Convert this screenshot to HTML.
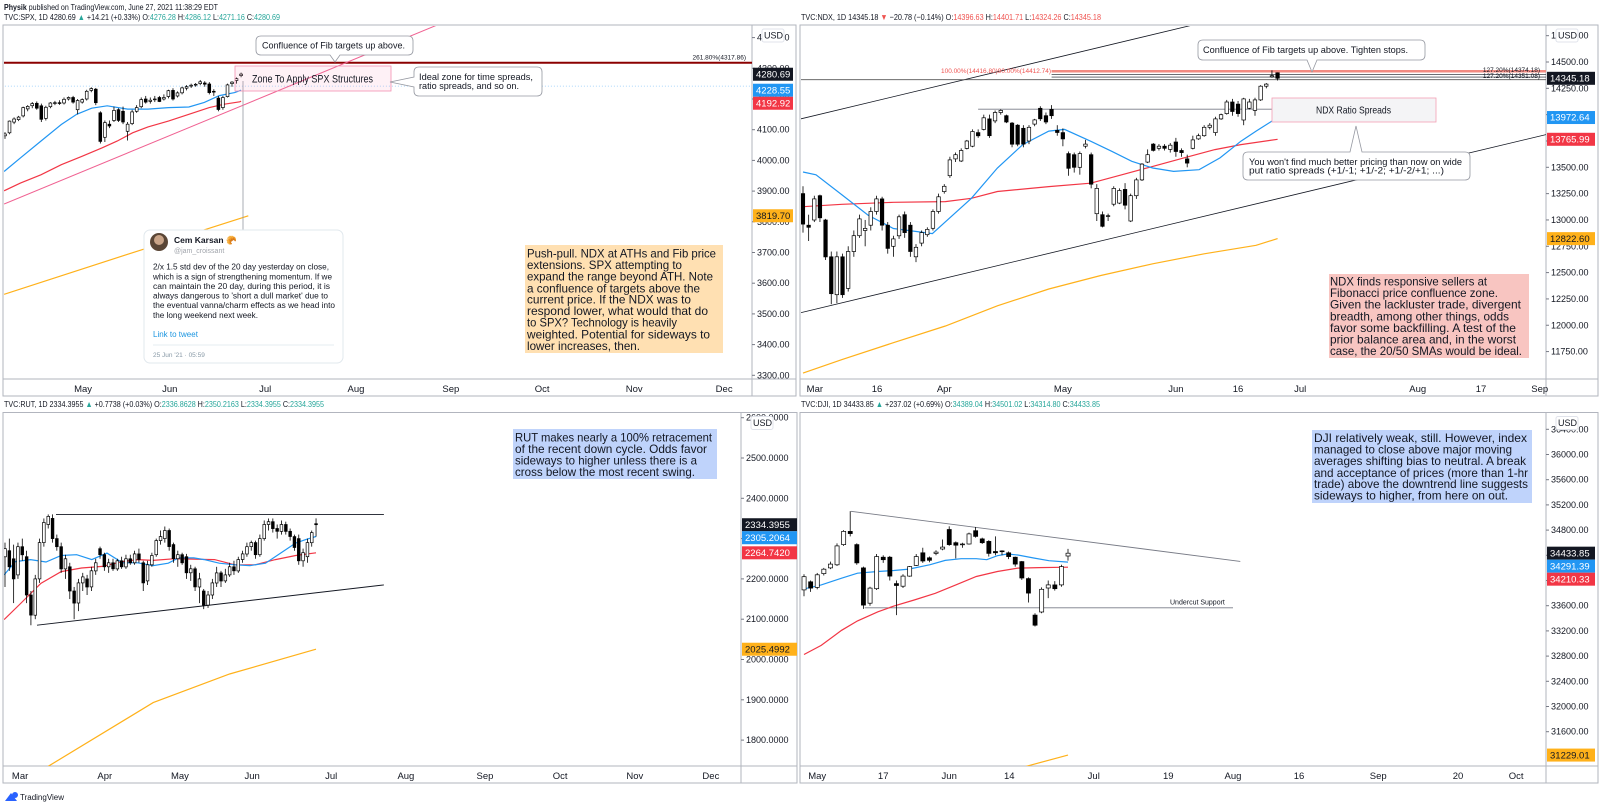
<!DOCTYPE html>
<html><head><meta charset="utf-8"><title>TradingView multi-chart</title>
<style>
html,body{margin:0;padding:0;background:#fff;}
svg{display:block;font-family:"Liberation Sans",sans-serif;}
.ax{font-size:9px;fill:#131722;}
.dt{font-size:9.5px;fill:#131722;text-anchor:middle;}
.note{font-size:12px;fill:#131722;}
.cl{font-size:9.5px;fill:#131722;}
</style></head>
<body>
<svg id="chart" width="1600" height="805" viewBox="0 0 1600 805" xmlns="http://www.w3.org/2000/svg">
<rect x="0" y="0" width="1600" height="805" fill="#fff"/>
<text x="4" y="10" font-size="8px" fill="#131722" textLength="214" lengthAdjust="spacingAndGlyphs"><tspan font-weight="bold">Physik</tspan> published on TradingView.com, June 27, 2021 11:38:29 EDT</text>

<!-- legends -->
<text x="4" y="20" font-size="8.5px" fill="#131722" textLength="276" lengthAdjust="spacingAndGlyphs">TVC:SPX, 1D 4280.69 <tspan fill="#26a69a">▲</tspan> +14.21 (+0.33%) O:<tspan fill="#26a69a">4276.28</tspan> H:<tspan fill="#26a69a">4286.12</tspan> L:<tspan fill="#26a69a">4271.16</tspan> C:<tspan fill="#26a69a">4280.69</tspan></text>
<text x="801" y="20" font-size="8.5px" fill="#131722" textLength="300" lengthAdjust="spacingAndGlyphs">TVC:NDX, 1D 14345.18 <tspan fill="#ef5350">▼</tspan> −20.78 (−0.14%) O:<tspan fill="#ef5350">14396.63</tspan> H:<tspan fill="#ef5350">14401.71</tspan> L:<tspan fill="#ef5350">14324.26</tspan> C:<tspan fill="#ef5350">14345.18</tspan></text>
<text x="4" y="407" font-size="8.5px" fill="#131722" textLength="320" lengthAdjust="spacingAndGlyphs">TVC:RUT, 1D 2334.3955 <tspan fill="#26a69a">▲</tspan> +0.7738 (+0.03%) O:<tspan fill="#26a69a">2336.8628</tspan> H:<tspan fill="#26a69a">2350.2163</tspan> L:<tspan fill="#26a69a">2334.3955</tspan> C:<tspan fill="#26a69a">2334.3955</tspan></text>
<text x="801" y="407" font-size="8.5px" fill="#131722" textLength="299" lengthAdjust="spacingAndGlyphs">TVC:DJI, 1D 34433.85 <tspan fill="#26a69a">▲</tspan> +237.02 (+0.69%) O:<tspan fill="#26a69a">34389.04</tspan> H:<tspan fill="#26a69a">34501.02</tspan> L:<tspan fill="#26a69a">34314.80</tspan> C:<tspan fill="#26a69a">34433.85</tspan></text>

<g id="panels"></g>

<!-- SPX annotations -->
<g>
<path d="M261,36 H408 Q413,36 413,41 V50 Q413,55 408,55 H340 L335,62 L330,55 H261 Q256,55 256,50 V41 Q256,36 261,36 Z" fill="#fff" stroke="#9598a1" stroke-width="0.8"/>
<text class="cl" x="262" y="48.5" textLength="143" lengthAdjust="spacingAndGlyphs">Confluence of Fib targets up above.</text>
<rect x="235" y="66" width="156" height="25" fill="rgba(244,143,177,0.12)" stroke="#f48fb1" stroke-width="0.8"/>
<text x="252" y="82.5" font-size="11px" fill="#131722" textLength="121" lengthAdjust="spacingAndGlyphs">Zone To Apply SPX Structures</text>
<path d="M419,67 H537 Q542,67 542,72 V91 Q542,96 537,96 H419 Q414,96 414,91 V87 L390,82 L414,77 V72 Q414,67 419,67 Z" fill="#fff" stroke="#9598a1" stroke-width="0.8"/>
<text class="cl" x="419" y="80" textLength="114" lengthAdjust="spacingAndGlyphs">Ideal zone for time spreads,</text>
<text class="cl" x="419" y="89" textLength="100" lengthAdjust="spacingAndGlyphs">ratio spreads, and so on.</text>
<!-- tweet card -->
<g>
<rect x="144" y="230" width="199" height="133" rx="6" fill="#fff" stroke="#e1e8ed" stroke-width="1"/>
<circle cx="159" cy="242" r="9" fill="#5a4636"/>
<circle cx="159" cy="240" r="5" fill="#c9a488"/>
<text x="174" y="243" font-size="8.5px" font-weight="bold" fill="#131722">Cem Karsan <tspan fill="#f0a030">🥐</tspan></text>
<text x="174" y="253" font-size="7px" fill="#a0a4ab">@jam_croissant</text>
<g font-size="8px" fill="#131722">
<text x="153" y="269.5" textLength="176" lengthAdjust="spacingAndGlyphs">2/x 1.5 std dev of the 20 day yesterday on close,</text>
<text x="153" y="279.3" textLength="179" lengthAdjust="spacingAndGlyphs">which is a sign of strengthening momentum. If we</text>
<text x="153" y="289" textLength="177" lengthAdjust="spacingAndGlyphs">can maintain the 20 day, during this period,  it is</text>
<text x="153" y="298.5" textLength="175" lengthAdjust="spacingAndGlyphs">always dangerous to 'short a dull market' due to</text>
<text x="153" y="308" textLength="182" lengthAdjust="spacingAndGlyphs">the eventual vanna/charm effects as we head into</text>
<text x="153" y="318" textLength="105" lengthAdjust="spacingAndGlyphs">the long weekend next week.</text>
</g>
<text x="153" y="337" font-size="8px" fill="#1b95e0">Link to tweet</text>
<line x1="153" y1="345" x2="334" y2="345" stroke="#e6ecf0"/>
<text x="153" y="357" font-size="6.5px" fill="#8899a6">25 Jun '21 · 05:59</text>
</g>
<!-- orange note -->
<rect x="525" y="245" width="198" height="108" fill="#ffe0b2"/>
<g class="note">
<text x="527" y="257.5" textLength="189" lengthAdjust="spacingAndGlyphs">Push-pull. NDX at ATHs and Fib price</text>
<text x="527" y="269" textLength="155" lengthAdjust="spacingAndGlyphs">extensions. SPX attempting to</text>
<text x="527" y="280.5" textLength="186" lengthAdjust="spacingAndGlyphs">expand the range beyond ATH. Note</text>
<text x="527" y="292.5" textLength="173" lengthAdjust="spacingAndGlyphs">a confluence of targets above the</text>
<text x="527" y="303.5" textLength="164" lengthAdjust="spacingAndGlyphs">current price. If the NDX was to</text>
<text x="527" y="315" textLength="181" lengthAdjust="spacingAndGlyphs">respond lower, what would that do</text>
<text x="527" y="326.5" textLength="150" lengthAdjust="spacingAndGlyphs">to SPX? Technology is heavily</text>
<text x="527" y="338.5" textLength="183" lengthAdjust="spacingAndGlyphs">weighted. Potential for sideways to</text>
<text x="527" y="350" textLength="113" lengthAdjust="spacingAndGlyphs">lower increases, then.</text>
</g>
<text x="746" y="59.5" font-size="6.5px" fill="#131722" text-anchor="end">261.80%(4317.86)</text>
</g>

<!-- NDX annotations -->
<g>
<path d="M1203,40 H1420 Q1425,40 1425,45 V55 Q1425,60 1420,60 H1317 L1312,72 L1307,60 H1203 Q1198,60 1198,55 V45 Q1198,40 1203,40 Z" fill="#fff" stroke="#9598a1" stroke-width="0.8"/>
<text class="cl" x="1203" y="53" textLength="205" lengthAdjust="spacingAndGlyphs">Confluence of Fib targets up above. Tighten stops.</text>
<rect x="1272" y="98" width="164" height="24" fill="#f4f4f6" stroke="#f4a0b5" stroke-width="0.8"/>
<text x="1316" y="113.5" font-size="10.5px" fill="#131722" textLength="75" lengthAdjust="spacingAndGlyphs">NDX Ratio Spreads</text>
<path d="M1248,152 H1350 L1356,126 L1362,152 H1465 Q1470,152 1470,157 V175 Q1470,180 1465,180 H1248 Q1243,180 1243,175 V157 Q1243,152 1248,152 Z" fill="#fff" stroke="#9598a1" stroke-width="0.8"/>
<text class="cl" x="1249" y="165" textLength="213" lengthAdjust="spacingAndGlyphs">You won't find much better pricing than now on wide</text>
<text class="cl" x="1249" y="173.5" textLength="195" lengthAdjust="spacingAndGlyphs">put ratio spreads (+1/-1; +1/-2; +1/-2/+1; ...)</text>
<rect x="1329" y="274" width="200" height="84" fill="#f8c5c1"/>
<g class="note">
<text x="1330" y="285.5" textLength="157" lengthAdjust="spacingAndGlyphs">NDX finds responsive sellers at</text>
<text x="1330" y="297" textLength="168" lengthAdjust="spacingAndGlyphs">Fibonacci price confluence zone.</text>
<text x="1330" y="308.5" textLength="191" lengthAdjust="spacingAndGlyphs">Given the lackluster trade, divergent</text>
<text x="1330" y="320.5" textLength="179" lengthAdjust="spacingAndGlyphs">breadth, among other things, odds</text>
<text x="1330" y="332" textLength="186" lengthAdjust="spacingAndGlyphs">favor some backfilling. A test of the</text>
<text x="1330" y="343.5" textLength="186" lengthAdjust="spacingAndGlyphs">prior balance area and, in the worst</text>
<text x="1330" y="355" textLength="192" lengthAdjust="spacingAndGlyphs">case, the 20/50 SMAs would be ideal.</text>
</g>
<text x="941" y="73" font-size="6.5px" fill="#ef5350" textLength="110" lengthAdjust="spacingAndGlyphs">100.00%(14416.80)90.00%(14412.74)</text>
<text x="1540" y="72" font-size="6.5px" fill="#131722" text-anchor="end">127.20%(14374.18)</text>
<text x="1540" y="78" font-size="6.5px" fill="#131722" text-anchor="end">127.20%(14351.08)</text>
</g>

<!-- RUT note -->
<g>
<rect x="513" y="429" width="204" height="50" fill="#bfd3fb"/>
<g class="note">
<text x="515" y="441.5" textLength="197" lengthAdjust="spacingAndGlyphs">RUT makes nearly a 100% retracement</text>
<text x="515" y="452.9" textLength="192" lengthAdjust="spacingAndGlyphs">of the recent down cycle. Odds favor</text>
<text x="515" y="464.5" textLength="182" lengthAdjust="spacingAndGlyphs">sideways to higher unless there is a</text>
<text x="515" y="476" textLength="180" lengthAdjust="spacingAndGlyphs">cross below the most recent swing.</text>
</g>
</g>

<!-- DJI note -->
<g>
<rect x="1312" y="430" width="220" height="73" fill="#bfd3fb"/>
<g class="note">
<text x="1314" y="441.9" textLength="213" lengthAdjust="spacingAndGlyphs">DJI relatively weak, still. However, index</text>
<text x="1314" y="453.6" textLength="198" lengthAdjust="spacingAndGlyphs">managed to close above major moving</text>
<text x="1314" y="465" textLength="212" lengthAdjust="spacingAndGlyphs">averages shifting bias to neutral. A break</text>
<text x="1314" y="476.8" textLength="214" lengthAdjust="spacingAndGlyphs">and acceptance of prices (more than 1-hr</text>
<text x="1314" y="488.2" textLength="214" lengthAdjust="spacingAndGlyphs">trade) above the downtrend line suggests</text>
<text x="1314" y="499.7" textLength="194" lengthAdjust="spacingAndGlyphs">sideways to higher, from here on out.</text>
</g>
<text x="1170" y="604.5" font-size="7px" fill="#131722">Undercut Support</text>
</g>

<g>
<path d="M5,801 L11,793 L17,801 Z" fill="#2962ff"/>
<circle cx="15" cy="795" r="3" fill="#2962ff"/>
<text x="20" y="800" font-size="8px" fill="#131722">TradingView</text>
</g>
</svg>

<script>
// ---------- SPX data ----------
const spxCandles = [[4080,4092,4070,4086],[4090,4130,4085,4128],[4125,4140,4118,4135],[4133,4145,4128,4141],[4145,4175,4140,4172],[4168,4180,4160,4176],[4178,4190,4170,4185],[4186,4192,4165,4170],[4178,4185,4125,4134],[4137,4178,4130,4173],[4175,4190,4170,4187],[4186,4194,4180,4188],[4188,4196,4181,4187],[4187,4205,4182,4199],[4200,4208,4195,4205],[4205,4210,4185,4190],[4165,4200,4150,4195],[4190,4202,4185,4198],[4200,4230,4195,4225],[4228,4238,4222,4234],[4232,4236,4180,4188],[4155,4160,4055,4062],[4075,4130,4060,4123],[4118,4130,4105,4112],[4130,4175,4125,4163],[4165,4170,4125,4130],[4160,4175,4118,4125],[4095,4125,4065,4118],[4120,4165,4115,4158],[4160,4180,4155,4172],[4175,4205,4170,4198],[4200,4210,4185,4190],[4192,4205,4185,4196],[4198,4210,4190,4200],[4205,4210,4190,4192],[4200,4215,4195,4205],[4208,4230,4202,4227],[4228,4235,4195,4200],[4210,4225,4205,4220],[4220,4240,4215,4236],[4235,4245,4228,4240],[4242,4250,4236,4245],[4246,4252,4240,4248],[4250,4262,4245,4256],[4252,4258,4240,4248],[4249,4255,4215,4221],[4225,4232,4210,4224],[4203,4210,4160,4166],[4172,4210,4165,4205],[4208,4250,4205,4246],[4250,4258,4240,4255],[4260,4270,4250,4266],[4276,4286,4271,4281]];
const spxSma20 = [[-0.2,3964],[3.4,4008],[7.9,4063],[12.4,4117],[15.8,4150],[19.1,4170],[22.5,4178],[27,4167],[31.5,4167],[36,4172],[40.5,4174],[43.9,4189],[47.2,4211],[50.6,4221],[52,4228.55]];
const spxSma50 = [[-0.2,3901],[3.4,3926],[7.9,3953],[12.4,3986],[16.9,4013],[21.4,4041],[24.7,4063],[28.1,4090],[31.5,4109],[36,4128],[40.5,4150],[45,4172],[48.3,4183],[51.7,4191],[52,4192.92]];
const spxSma200 = [[-0.2,3564],[27,3694],[53.6,3819.7]];
const spxTicks = [4400,4300,4200,4100,4000,3900,3800,3700,3600,3500,3400,3300];
const spxDateLabels = ["May","Jun","Jul","Aug","Sep","Oct","Nov","Dec"];
const spxDateIdx = [17.2,36.3,57.3,77.3,98.2,118.3,138.6,158.4];
const spxPriceTags = [4280.69,4228.55,4192.92,3819.70];
const spxTrend = [[-0.2,3858],[95.2,4441]];

// ---------- NDX data ----------
const ndxCandles = [[13250,13320,12880,12960],[12950,13050,12800,12930],[13000,13230,12980,13200],[13230,13240,12980,13020],[13000,13010,12620,12650],[12650,12700,12200,12300],[12290,12700,12210,12650],[12650,12680,12260,12290],[12350,12750,12320,12700],[12700,12900,12650,12850],[12850,13050,12830,13010],[12900,13000,12750,12920],[12950,13120,12900,13080],[13080,13230,13050,13200],[13200,13220,12900,12950],[12950,12980,12680,12730],[12750,12850,12650,12820],[12850,13050,12820,13030],[13050,13080,12830,12880],[12950,12980,12650,12700],[12650,12770,12600,12740],[12780,12900,12750,12880],[12860,12930,12840,12910],[12920,13100,12900,13080],[13080,13250,13060,13220],[13270,13340,13250,13320],[13420,13600,13400,13570],[13580,13640,13550,13620],[13560,13680,13550,13660],[13680,13760,13670,13750],[13700,13860,13690,13840],[13830,13860,13780,13800],[13860,14000,13850,13970],[13960,14000,13780,13800],[13940,14040,13920,14020],[14020,14050,14000,14040],[13990,14000,13920,13930],[13920,13930,13690,13720],[13900,13910,13700,13720],[13870,13900,13690,13720],[13750,13900,13720,13880],[13910,13960,13890,13950],[14060,14080,13940,13960],[13990,14020,13910,13930],[14050,14090,13960,13990],[13850,13900,13800,13830],[13830,13870,13700,13770],[13630,13650,13420,13490],[13620,13640,13450,13500],[13500,13650,13430,13630],[13700,13760,13680,13720],[13620,13640,13300,13340],[13060,13340,12990,13300],[13050,13080,12930,12940],[13040,13060,12990,13040],[13150,13320,13130,13300],[13160,13300,13150,13280],[13290,13350,13100,13140],[12990,13250,12980,13230],[13230,13400,13200,13380],[13380,13540,13370,13530],[13550,13670,13540,13620],[13720,13730,13650,13660],[13680,13720,13660,13700],[13700,13720,13660,13680],[13670,13730,13640,13710],[13740,13780,13600,13650],[13660,13680,13600,13640],[13580,13620,13500,13540],[13680,13800,13670,13760],[13770,13820,13760,13800],[13800,13900,13790,13880],[13880,13920,13860,13900],[13830,13980,13800,13960],[13960,14010,13950,14000],[14010,14140,14000,14120],[14120,14150,13990,14030],[14100,14130,13980,14010],[13950,14160,13900,14150],[14060,14150,14050,14120],[14040,14160,13990,14140],[14140,14280,14130,14270],[14270,14300,14250,14290],[14360,14420,14350,14370],[14397,14402,14324,14345]];
const ndxSma20 = [[0,13455],[2.3,13429],[6.9,13238],[11.5,13046],[16,12919],[22.9,12870],[25.2,12982],[29.8,13206],[34.4,13493],[38.9,13716],[43.5,13844],[46.3,13860],[50.9,13748],[54.6,13653],[58.2,13557],[61.9,13493],[65.6,13461],[70.1,13477],[73.8,13589],[77.5,13748],[80.2,13844],[84,13972.64]];
const ndxSma50 = [[0,13126],[6.9,13149],[16,13168],[25.2,13174],[29.8,13206],[34.4,13270],[43.5,13317],[50.9,13349],[56.4,13429],[61.9,13509],[67.4,13589],[72.9,13668],[77.5,13716],[84,13765.99]];
const ndxSma200 = [[0,11546],[6.9,11674],[16,11834],[25.2,11993],[34.4,12185],[43.5,12344],[52.7,12472],[61.9,12584],[71,12679],[80.2,12759],[84,12822.6]];
const ndxTicks = [14750,14500,14250,14000,13750,13500,13250,13000,12750,12500,12250,12000,11750];
const ndxDateLabels = ["Mar","16","Apr","May","Jun","16","Jul","Aug","17","Sep"];
const ndxDateIdx = [2.1,13.1,25,46,66,77,88,108.8,120,130.4];
const ndxPriceTags = [14345.18,13972.64,13765.99,12822.60];
const ndxUpperChannel = [[-0.35,13961],[69,14851]];
const ndxLowerChannel = [[-0.35,12120],[131.5,13811]];

// ---------- RUT data ----------
const rutCandles = [[2255,2290,2180,2275],[2270,2300,2220,2230],[2250,2285,2140,2200],[2210,2290,2200,2280],[2280,2300,2245,2260],[2255,2270,2140,2160],[2160,2170,2085,2110],[2110,2210,2100,2200],[2200,2300,2190,2290],[2290,2350,2280,2340],[2335,2360,2325,2355],[2350,2360,2290,2300],[2300,2310,2270,2280],[2280,2290,2215,2225],[2225,2260,2200,2250],[2230,2240,2150,2170],[2170,2180,2100,2140],[2140,2200,2120,2190],[2190,2215,2170,2205],[2200,2210,2160,2180],[2180,2230,2170,2220],[2220,2250,2210,2240],[2275,2280,2250,2260],[2260,2265,2220,2230],[2230,2250,2215,2240],[2240,2250,2220,2225],[2225,2250,2220,2245],[2245,2255,2225,2230],[2230,2260,2225,2250],[2250,2260,2235,2240],[2240,2270,2235,2262],[2262,2275,2240,2248],[2240,2245,2170,2190],[2195,2245,2185,2235],[2235,2265,2230,2258],[2260,2300,2255,2295],[2295,2320,2285,2305],[2300,2330,2290,2320],[2320,2325,2270,2280],[2285,2290,2240,2250],[2250,2270,2230,2260],[2260,2265,2235,2240],[2255,2262,2200,2215],[2215,2235,2195,2225],[2225,2230,2170,2180],[2180,2215,2140,2200],[2170,2175,2125,2135],[2135,2170,2128,2160],[2160,2200,2150,2190],[2190,2230,2180,2215],[2215,2220,2180,2195],[2195,2225,2190,2210],[2210,2240,2205,2230],[2230,2245,2210,2220],[2220,2255,2215,2248],[2248,2270,2240,2262],[2262,2290,2255,2280],[2280,2295,2270,2290],[2290,2295,2250,2260],[2260,2310,2255,2300],[2300,2345,2295,2335],[2335,2350,2320,2342],[2342,2350,2315,2325],[2325,2335,2300,2318],[2318,2345,2310,2335],[2335,2342,2310,2318],[2318,2325,2295,2305],[2305,2310,2270,2278],[2300,2310,2235,2245],[2245,2275,2230,2265],[2255,2300,2240,2290],[2290,2320,2280,2315],[2336.86,2350.22,2305,2334.40]];
const rutSma20 = [[-0.2,2210],[2.4,2243],[5.9,2248],[9.5,2242],[13,2258],[16.6,2260],[20.1,2248],[23.6,2264],[27.2,2240],[30.7,2240],[34.3,2233],[37.8,2239],[40.2,2252],[43.7,2252],[46.1,2248],[49.6,2239],[53.2,2235],[56.7,2233],[60.3,2239],[63.8,2264],[67.3,2289],[69.7,2298],[72,2305.21]];
const rutSma50 = [[-0.2,2099],[3.6,2139],[8.3,2189],[13,2218],[17.7,2227],[22.5,2231],[27.2,2243],[30.7,2248],[34.3,2246],[39,2250],[43.7,2249],[48.5,2248],[53.2,2235],[57.9,2235],[62.6,2248],[67.3,2258],[72,2264.74]];
const rutSma200 = [[10,1735],[34.3,1893],[52,1964],[72,2025.5]];
const rutTicks = [2600,2500,2400,2300,2200,2100,2000,1900,1800];
const rutDateLabels = ["Mar","Apr","May","Jun","Jul","Aug","Sep","Oct","Nov","Dec"];
const rutDateIdx = [3.5,23.1,40.5,57.2,75.5,92.8,111.1,128.5,145.8,163.4];
const rutPriceTags = [2334.3955,2305.2064,2264.7420,2025.4992];
const rutResistance = [[11.8,2360],[87.7,2360]];
const rutSupport = [[7.4,2085],[87.7,2185]];

// ---------- DJI data ----------
const djiCandles = [[33850,34100,33750,34060],[33980,34000,33820,33880],[33890,34120,33860,34090],[34110,34200,34080,34180],[34200,34300,34180,34260],[34250,34590,34230,34550],[34570,34800,34550,34780],[34780,35100,34700,34745],[34570,34590,34250,34280],[34200,34220,33550,33610],[33640,33900,33600,33880],[33870,34420,33850,34380],[34370,34400,34280,34330],[34370,34390,34000,34070],[33950,34000,33450,33920],[33910,34100,33880,34070],[34070,34230,34060,34220],[34240,34420,34230,34380],[34440,34520,34280,34310],[34360,34380,34290,34320],[34430,34480,34400,34450],[34500,34650,34480,34530],[34810,34860,34550,34570],[34600,34620,34350,34560],[34570,34600,34520,34580],[34580,34760,34570,34740],[34790,34850,34680,34700],[34660,34680,34580,34600],[34620,34640,34380,34430],[34460,34700,34400,34440],[34470,34480,34400,34460],[34440,34460,34340,34380],[34370,34380,34220,34260],[34300,34310,34010,34040],[34030,34050,33650,33800],[33450,33480,33270,33290],[33500,33890,33480,33860],[33880,34000,33720,33930],[33930,33990,33840,33870],[33930,34250,33900,34220],[34389,34501,34315,34434]];
const djiSma20 = [[0,33867],[2.6,33930],[5.7,34036],[8.1,34116],[11.2,34143],[13.6,34159],[15.9,34181],[19.1,34251],[21.4,34319],[23.8,34346],[26.1,34346],[27.7,34330],[29.3,34394],[30.8,34421],[32.4,34405],[34.8,34357],[37.1,34314],[40,34291.39]];
const djiSma50 = [[0,32825],[2.6,32970],[5.7,33210],[8.1,33359],[11.2,33503],[13.6,33594],[16.7,33690],[19.9,33797],[23,33930],[26.1,34063],[29.3,34143],[32.4,34197],[35.6,34205],[40,34210.33]];
const djiSma200 = [[33.6,31049],[40,31229.01]];
const djiTicks = [36400,36000,35600,35200,34800,34400,34000,33600,33200,32800,32400,32000,31600];
const djiDateLabels = ["May","17","Jun","14","Jul","19","Aug","16","Sep","20","Oct"];
const djiDateIdx = [2,12,22,31.1,43.9,55.2,65,75,87,99.1,107.9];
const djiPriceTags = [34433.85,34291.39,34210.33,31229.01];
const djiDowntrend = [[7.1,35098],[66.1,34303]];
const djiUndercut = [[9.2,33567],[65,33567]];

const NS = "http://www.w3.org/2000/svg";
const root = document.getElementById('panels');
const tagColors = ["#131722","#2196f3","#f23645","#ffb11a"];

function mk(tag, parent){ const e=document.createElementNS(NS,tag); parent.appendChild(e); return e; }

function drawPanel(id, P, candles, s20, s50, s200, ticks, dec, dLabels, dIdx, tags, extras){
  const g = mk('g', root);
  
  
  const X = i => P.x0 + i*P.step;
  const Y = v => P.yRef + (P.vRef - v)*P.k;
  // frame
  const fr = mk('rect', g);
  
  
  fr.setAttribute('x',P.L-1); fr.setAttribute('y',P.T); fr.setAttribute('width',P.AR-P.L+1); fr.setAttribute('height',P.B+17-P.T);
  fr.setAttribute('fill','none'); fr.setAttribute('stroke','#b2b5be'); fr.setAttribute('stroke-width','1');
  const ax = mk('line', g);
  
  
  ax.setAttribute('x1',P.R); ax.setAttribute('x2',P.R); ax.setAttribute('y1',P.T); ax.setAttribute('y2',P.B+17); ax.setAttribute('stroke','#b2b5be');
  const tx = mk('line', g);
  
  
  tx.setAttribute('x1',P.L-1); tx.setAttribute('x2',P.AR); tx.setAttribute('y1',P.B); tx.setAttribute('y2',P.B); tx.setAttribute('stroke','#b2b5be');
  // clip
  const cp = mk('clipPath', g); cp.setAttribute('id','clip-'+id);
  const cr = mk('rect', cp); cr.setAttribute('x',P.L); cr.setAttribute('y',P.T+1); cr.setAttribute('width',P.R-P.L); cr.setAttribute('height',P.B-P.T-1);
  const plot = mk('g', g);
  
  
  plot.setAttribute('clip-path','url(#clip-'+id+')');
  // extras below candles
  extras.forEach(ex => {
    const l = mk('polyline', plot);
    
    
    l.setAttribute('points', ex.pts.map(p=>X(p[0]).toFixed(1)+','+Y(p[1]).toFixed(1)).join(' '));
    l.setAttribute('fill','none'); l.setAttribute('stroke',ex.color); l.setAttribute('stroke-width',ex.w||1);
    if(ex.dash) l.setAttribute('stroke-dasharray',ex.dash);
  });
  // SMAs
  [[s200,'#ffb11a','sma-200'],[s50,'#f23645','sma-50'],[s20,'#2196f3','sma-20']].forEach(s=>{
    const l = mk('polyline', plot);
    
    
    l.setAttribute('points', s[0].map(p=>X(p[0]).toFixed(1)+','+Y(p[1]).toFixed(1)).join(' '));
    l.setAttribute('fill','none'); l.setAttribute('stroke',s[1]); l.setAttribute('stroke-width','1.2');
  });
  // candles
  const bw = Math.max(2, P.step*0.62);
  candles.forEach((c,i)=>{
    const [o,h,lo,cl] = c; const x = X(i); const up = cl>=o;
    const cg = mk('g', plot);
    
    
    const w = mk('line', cg);
    w.setAttribute('x1',x); w.setAttribute('x2',x); w.setAttribute('y1',Y(h)); w.setAttribute('y2',Y(lo)); w.setAttribute('stroke','#000'); w.setAttribute('stroke-width','0.8');
    const b = mk('rect', cg);
    const yt = Y(Math.max(o,cl)), yb = Y(Math.min(o,cl));
    b.setAttribute('x',(x-bw/2).toFixed(1)); b.setAttribute('y',yt.toFixed(1)); b.setAttribute('width',bw.toFixed(1)); b.setAttribute('height',Math.max(0.8,yb-yt).toFixed(1));
    b.setAttribute('fill', up?'#fff':'#000'); b.setAttribute('stroke','#000'); b.setAttribute('stroke-width','0.7');
  });
  // ticks
  ticks.forEach(t=>{
    const y = Y(t); if(y<P.T+3||y>P.B-2) return;
    const tm = mk('line', g);
    
    
    tm.setAttribute('x1',P.R); tm.setAttribute('x2',P.R+3); tm.setAttribute('y1',y); tm.setAttribute('y2',y); tm.setAttribute('stroke','#787b86');
    const tt = mk('text', g);
    
    
    tt.setAttribute('class','ax'); tt.setAttribute('x',P.R+5); tt.setAttribute('y',y+3);
    tt.textContent = t.toFixed(dec);
  });
  // dates
  dLabels.forEach((d,i)=>{
    const x = X(dIdx[i]);
    const dl = mk('text', g);
    
    
    dl.setAttribute('class','dt'); dl.setAttribute('x',x); dl.setAttribute('y',P.B+13);
    dl.textContent = d;
  });
  // price tags with overlap push
  let ys = tags.map((v,i)=>({v,i,y:Y(v)}));
  ys.sort((a,b)=>a.y-b.y);
  for(let k=1;k<ys.length;k++){ if(ys[k].y-ys[k-1].y<13) ys[k].y=ys[k-1].y+13; }
  ys.forEach(t=>{
    const tg = mk('g', g);
    
    
    const r = mk('rect', tg);
    r.setAttribute('x',P.R+1); r.setAttribute('y',t.y-6.5); r.setAttribute('width',P.tagW); r.setAttribute('height',13); r.setAttribute('fill',tagColors[t.i]);
    const tt = mk('text', tg);
    tt.setAttribute('x',P.R+4); tt.setAttribute('y',t.y+3.2); tt.setAttribute('font-size','9.5px');
    tt.setAttribute('fill', t.i===3?'#131722':'#fff');
    tt.textContent = t.v.toFixed(dec);
  });
  // USD box
  const ub = mk('g', g);
  
  
  const ur = mk('rect', ub);
  ur.setAttribute('x',P.R+10); ur.setAttribute('y',P.T+4); ur.setAttribute('width',22); ur.setAttribute('height',13); ur.setAttribute('rx',2); ur.setAttribute('fill','#fff'); ur.setAttribute('stroke','#e0e3eb');
  const ut = mk('text', ub);
  ut.setAttribute('x',P.R+12); ut.setAttribute('y',P.T+13.5); ut.setAttribute('font-size','9px'); ut.setAttribute('fill','#131722');
  ut.textContent = 'USD';
  return {X,Y,plot};
}

// SPX
const spx = drawPanel('spx', {L:4,R:752,T:25,B:379,AR:796,x0:5,step:4.54,vRef:4100,yRef:129.7,k:0.307,tagW:40},
  spxCandles, spxSma20, spxSma50, spxSma200, spxTicks, 2, spxDateLabels, spxDateIdx, spxPriceTags,
  [{name:'fib-261-line',pts:[[-2,4317.86],[170,4317.86]],color:'#8b0000',w:2},
   {name:'price-line',pts:[[-2,4242],[170,4242]],color:'#90caf9',w:0.8,dash:'1,2'},
   {name:'pink-trendline',pts:spxTrend,color:'#f06292',w:1}]);
// vertical marker line
(function(){
  const v = mk('line', spx.plot);
  
  
  v.setAttribute('x1',243); v.setAttribute('x2',243); v.setAttribute('y1',81); v.setAttribute('y2',230); v.setAttribute('stroke','#9598a1'); v.setAttribute('stroke-width','0.8');
})();

// NDX
drawPanel('ndx', {L:801,R:1546,T:25,B:379,AR:1598,x0:803,step:5.65,vRef:14500,yRef:62,k:0.1053,tagW:48},
  ndxCandles, ndxSma20, ndxSma50, ndxSma200, ndxTicks, 2, ndxDateLabels, ndxDateIdx, ndxPriceTags,
  [{name:'upper-channel',pts:ndxUpperChannel,color:'#131722',w:0.8},
   {name:'lower-channel',pts:ndxLowerChannel,color:'#131722',w:0.8},
   {name:'balance-line',pts:[[31,14052],[83,14052]],color:'#787b86',w:0.8},
   {name:'fib-100-line',pts:[[44,14412],[140,14412]],color:'#f28b82',w:2.5},
   {name:'fib-127-line',pts:[[44,14380],[140,14380]],color:'#131722',w:0.6},
   {name:'fib-127b-line',pts:[[44,14357],[140,14357]],color:'#131722',w:0.6},
   {name:'current-price-line',pts:[[-2,14332],[140,14332]],color:'#555',w:0.8}]);

// RUT
drawPanel('rut', {L:4,R:741,T:412.5,B:766,AR:797,x0:5,step:4.32,vRef:2200,yRef:578.9,k:0.403,tagW:55},
  rutCandles, rutSma20, rutSma50, rutSma200, rutTicks, 4, rutDateLabels, rutDateIdx, rutPriceTags,
  [{name:'resistance-line',pts:rutResistance,color:'#131722',w:0.9},
   {name:'support-trendline',pts:rutSupport,color:'#131722',w:0.9}]);

// DJI
drawPanel('dji', {L:801,R:1546,T:412.5,B:766,AR:1598,x0:804,step:6.6,vRef:36000,yRef:454.5,k:0.063,tagW:48},
  djiCandles, djiSma20, djiSma50, djiSma200, djiTicks, 2, djiDateLabels, djiDateIdx, djiPriceTags,
  [{name:'downtrend-line',pts:djiDowntrend,color:'#787b86',w:0.9},
   {name:'undercut-support-line',pts:djiUndercut,color:'#787b86',w:0.9}]);

// move annotations above panels
const svg = document.getElementById('chart');
svg.insertBefore(root, svg.children[6]);
</script>
</body></html>
